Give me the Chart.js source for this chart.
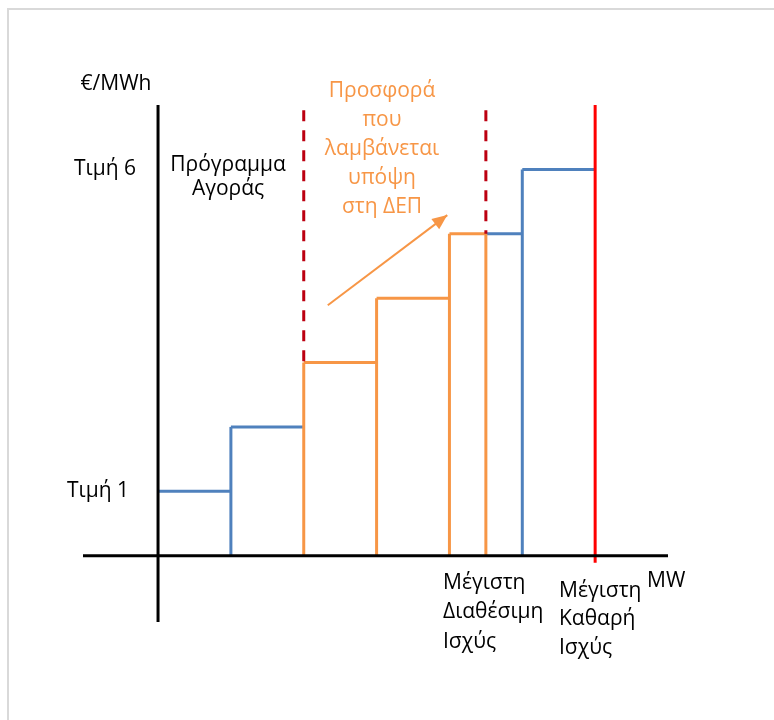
<!DOCTYPE html>
<html>
<head>
<meta charset="utf-8">
<script src="https://cdn.jsdelivr.net/npm/chart.js@4/dist/chart.umd.min.js"></script>
<style>
  html, body { margin: 0; padding: 0; background: #ffffff; }
  #wrap { position: relative; width: 774px; height: 720px; }
</style>
</head>
<body>
<div id="wrap"><canvas id="c" width="774" height="720"></canvas></div>
<script>
// ---- data (MW steps and price levels) ----
const offerStartMW    = [0, 1, 2, 3, 4, 4.5, 5];
const offerEndMW      = [1, 2, 3, 4, 4.5, 5, 6];
const offerPrice      = [1, 2, 3, 4, 5, 5, 6];
const offerConsidered = [false, false, true, true, true, false, false];
const priceTickValues = [1, 6];
const priceTickLabels = ['Τιμή 1', 'Τιμή 6'];
const maxAvailableMW  = 4.5;
const maxNetMW        = 6;
const windowStartMW   = 2;
const arrowFrom       = [2.33, 3.89];
const arrowTo         = [3.97, 5.29];
const axisMin = -1.03, axisMax = 7.0;
const yLabel = '€/MWh';
const xLabel = 'MW';
const marketLabel = ['Πρόγραμμα', 'Αγοράς'];
const offerLabel = ['Προσφορά', 'που', 'λαμβάνεται', 'υπόψη', 'στη ΔΕΠ'];
const maxAvailLabel = ['Μέγιστη', 'Διαθέσιμη', 'Ισχύς'];
const maxNetLabel = ['Μέγιστη', 'Καθαρή', 'Ισχύς'];

// ---- styles ----
const BLUE = '#4F81BD', ORANGE = '#F79646', RED = '#FF0000', DARKRED = '#BC0010', BLACK = '#000000';
const TXT_ORANGE = '#F79646';
const FONT = '21px "Open Sans", "Noto Sans", sans-serif';

function line(points, color, width, dash) {
  return {
    data: points.map(p => ({x: p[0], y: p[1]})),
    showLine: true, borderColor: color, borderWidth: width,
    borderDash: dash || [], pointRadius: 0, fill: false, tension: 0,
    borderCapStyle: 'butt', borderJoinStyle: 'miter'
  };
}

const datasets = [];
// axes (on top)
datasets.push(line([[axisMin, 0], [axisMax, 0]], BLACK, 3));
datasets.push(line([[0, axisMin], [0, axisMax]], BLACK, 3));
// max net capacity (red)
datasets.push(line([[maxNetMW, -0.11], [maxNetMW, axisMax]], RED, 3));
// dashed window
datasets.push(line([[windowStartMW, 6.92], [windowStartMW, offerPrice[offerStartMW.indexOf(windowStartMW)]]], DARKRED, 3, [11, 9]));
datasets.push(line([[maxAvailableMW, 6.92], [maxAvailableMW, offerPrice[offerEndMW.indexOf(maxAvailableMW)]]], DARKRED, 3, [11, 9]));
// arrow
datasets.push(Object.assign(line([arrowFrom, arrowTo], ORANGE, 2), {isArrow: true}));
// step curve: orange on top of blue
const orangeSets = [], blueSets = [];
for (let i = 0; i < offerStartMW.length; i++) {
  const s = offerStartMW[i], e = offerEndMW[i], p = offerPrice[i];
  const hColor = offerConsidered[i] ? ORANGE : BLUE;
  const vOrange = offerConsidered[i] || (i > 0 && offerConsidered[i - 1]);
  if (s !== 0) (vOrange ? orangeSets : blueSets).push(line([[s, 0], [s, p]], vOrange ? ORANGE : BLUE, 3));
  (offerConsidered[i] ? orangeSets : blueSets).push(line([[s, p], [e, p]], hColor, 3));
}
datasets.push(...orangeSets, ...blueSets);

const decor = {
  id: 'decor',
  beforeDraw(chart) {
    const ctx = chart.ctx;
    ctx.save();
    ctx.strokeStyle = '#D9D9D9';
    ctx.lineWidth = 2;
    ctx.beginPath();
    ctx.moveTo(8, 720); ctx.lineTo(8, 9); ctx.lineTo(774, 9);
    ctx.stroke();
    ctx.restore();
  },
  afterDatasetsDraw(chart) {
    const ctx = chart.ctx;
    const ys = chart.scales.y;
    // arrow head
    chart.data.datasets.forEach((ds, i) => {
      if (!ds.isArrow) return;
      const pts = chart.getDatasetMeta(i).data;
      const a = pts[pts.length - 2], b = pts[pts.length - 1];
      const ang = Math.atan2(b.y - a.y, b.x - a.x);
      const L = 15, W = 6.5;
      ctx.save();
      ctx.fillStyle = ORANGE;
      ctx.beginPath();
      ctx.moveTo(b.x, b.y);
      ctx.lineTo(b.x - L * Math.cos(ang) + W * Math.sin(ang), b.y - L * Math.sin(ang) - W * Math.cos(ang));
      ctx.lineTo(b.x - L * Math.cos(ang) - W * Math.sin(ang), b.y - L * Math.sin(ang) + W * Math.cos(ang));
      ctx.closePath();
      ctx.fill();
      ctx.restore();
    });
    ctx.save();
    ctx.font = FONT;
    ctx.textBaseline = 'middle';
    function txt(s, x, y, align, color) {
      ctx.textAlign = align; ctx.fillStyle = color; ctx.fillText(s, x, y);
    }
    // axis labels
    txt(yLabel, 116, 84, 'center', BLACK);
    txt(xLabel, 647, 581, 'left', BLACK);
    // price tick labels
    const tickX = [98, 105];
    priceTickValues.forEach((v, i) => txt(priceTickLabels[i], tickX[i], ys.getPixelForValue(v), 'center', BLACK));
    // market schedule
    marketLabel.forEach((s, i) => txt(s, 228, 165 + i * 24, 'center', BLACK));
    // offer considered
    offerLabel.forEach((s, i) => txt(s, 382, 91 + i * 29, 'center', TXT_ORANGE));
    // capacity labels
    maxAvailLabel.forEach((s, i) => txt(s, 443, 583 + i * 29.5, 'left', BLACK));
    maxNetLabel.forEach((s, i) => txt(s, 559, 591 + i * 28.5, 'left', BLACK));
    ctx.restore();
  }
};

new Chart(document.getElementById('c'), {
  type: 'scatter',
  data: { datasets },
  options: {
    responsive: false,
    animation: false,
    layout: { padding: { left: 83, right: 106, top: 105, bottom: 98 } },
    plugins: { legend: { display: false }, tooltip: { enabled: false } },
    scales: {
      x: { type: 'linear', min: axisMin, max: axisMax, display: false },
      y: { type: 'linear', min: axisMin, max: axisMax, display: false }
    }
  },
  plugins: [decor]
});
</script>
</body>
</html>
